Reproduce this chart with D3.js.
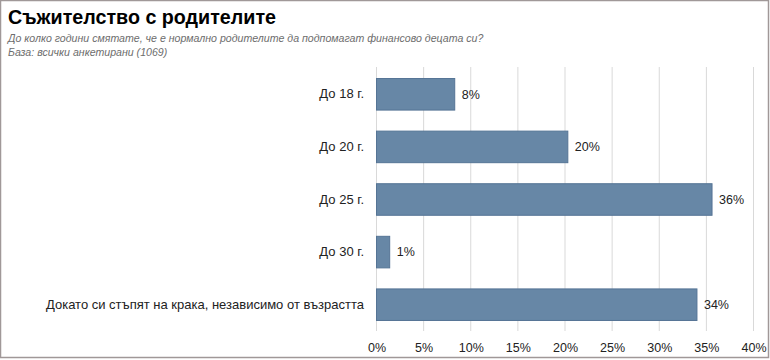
<!DOCTYPE html>
<html><head><meta charset="utf-8">
<script src="https://cdn.jsdelivr.net/npm/d3@7"></script>
<style>
html,body{margin:0;padding:0;background:#fff;}
svg{display:block;}
</style></head>
<body>
<script>
const categories = ["До 18 г.", "До 20 г.", "До 25 г.", "До 30 г.", "Докато си стъпят на крака, независимо от възрастта"];
const values = [8.3, 20.3, 35.6, 1.4, 34.0];
const valueLabels = ["8%", "20%", "36%", "1%", "34%"];
const xTicks = [0, 5, 10, 15, 20, 25, 30, 35, 40];
const title = "Съжителство с родителите";
const subtitle1 = "До колко години смятате, че е нормално родителите да подпомагат финансово децата си?";
const subtitle2 = "База: всички анкетирани (1069)";

const W = 770, H = 360;
const svg = d3.select("body").append("svg").attr("width", W).attr("height", H);
svg.append("rect").attr("x", 0.5).attr("y", 0.5).attr("width", 768).attr("height", 357)
  .attr("fill", "#fff").attr("stroke", "#a09898").attr("stroke-width", 1.5);

const font = "'Liberation Sans', Arial, sans-serif";
svg.append("text").attr("x", 8).attr("y", 24).text(title)
  .attr("font-family", font).attr("font-weight", "bold").attr("font-size", 19.7).attr("fill", "#000");
svg.append("text").attr("x", 8).attr("y", 42).text(subtitle1)
  .attr("font-family", font).attr("font-style", "italic").attr("font-size", 10.6).attr("fill", "#6d6d6d");
svg.append("text").attr("x", 8).attr("y", 56).text(subtitle2)
  .attr("font-family", font).attr("font-style", "italic").attr("font-size", 10.6).attr("fill", "#6d6d6d");

const x = d3.scaleLinear().domain([0, 40]).range([376.5, 753.5]);
const y = d3.scaleBand().domain(categories).range([68, 331]).paddingInner(0.4).paddingOuter(0.2);

const grid = svg.append("g");
grid.selectAll("line").data(xTicks).join("line")
  .attr("x1", d => x(d)).attr("x2", d => x(d)).attr("y1", 67).attr("y2", 331)
  .attr("stroke", "#d9d9d9").attr("stroke-width", 1);

const xAxis = svg.append("g").attr("transform", "translate(0,331)")
  .call(d3.axisBottom(x).tickValues(xTicks).tickFormat(d => d + "%").tickSize(0).tickPadding(12));
xAxis.select(".domain").remove();
xAxis.selectAll("text").attr("font-family", font).attr("font-size", 12.5).attr("fill", "#222");

const yAxis = svg.append("g").attr("transform", "translate(364,0)")
  .call(d3.axisLeft(y).tickSize(0).tickPadding(0));
yAxis.select(".domain").remove();
yAxis.selectAll("text").attr("font-family", font).attr("font-size", 13).attr("fill", "#222");

const data = categories.map((c, i) => ({c, v: values[i], l: valueLabels[i]}));
svg.append("g").selectAll("rect").data(data).join("rect")
  .attr("x", x(0)).attr("y", d => y(d.c))
  .attr("width", d => x(d.v) - x(0)).attr("height", y.bandwidth())
  .attr("fill", "#6787a6").attr("stroke", "#557495").attr("stroke-width", 1);

svg.append("g").selectAll("text").data(data).join("text")
  .attr("x", d => x(d.v) + 7).attr("y", d => y(d.c) + y.bandwidth() / 2)
  .attr("dy", "0.35em").text(d => d.l)
  .attr("font-family", font).attr("font-size", 12.5).attr("fill", "#222");
</script>
</body></html>
